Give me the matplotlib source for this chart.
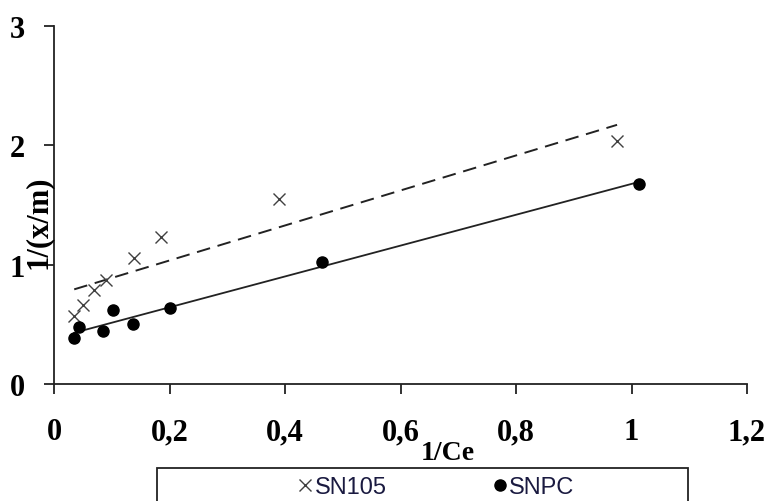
import numpy as np
import matplotlib.pyplot as plt
from matplotlib.lines import Line2D
from matplotlib.patches import Rectangle

# data
sn105_x = [0.035, 0.050, 0.069, 0.090, 0.139, 0.185, 0.390, 0.975]
sn105_y = [0.57, 0.66, 0.79, 0.87, 1.06, 1.23, 1.55, 2.04]
snpc_x = [0.035, 0.043, 0.085, 0.102, 0.137, 0.201, 0.464, 1.013]
snpc_y = [0.385, 0.477, 0.44, 0.62, 0.50, 0.64, 1.02, 1.68]

xticks = [0, 0.2, 0.4, 0.6, 0.8, 1.0, 1.2]
xticklabels = ["0", "0,2", "0,4", "0,6", "0,8", "1", "1,2"]
yticks = [0, 1, 2, 3]

serif = "Liberation Serif"
W, H = 767, 502

fig = plt.figure(figsize=(W / 100, H / 100), dpi=100)
ax = fig.add_axes([54 / W, 1 - 385 / H, 693 / W, 358 / H])

# linear trend lines
for x, y, style in [(sn105_x, sn105_y, "--"), (snpc_x, snpc_y, "-")]:
    a, b = np.polyfit(x, y, 1)
    xx = np.array([min(x), max(x)])
    if style == "--":
        ax.plot(xx, a * xx + b, color="#222222", lw=1.4, dashes=(7, 4))
    else:
        ax.plot(xx, a * xx + b, color="#222222", lw=1.3)

ax.plot(sn105_x, sn105_y, "x", color="#404040", ms=8, mew=1.0, ls="none")
ax.plot(snpc_x, snpc_y, "o", color="black", ms=8, ls="none")

ax.set_xlim(0, 1.2)
ax.set_ylim(0, 3)
ax.set_xticks(xticks)
ax.set_xticklabels(xticklabels)
ax.set_yticks(yticks)
for s in ["top", "right"]:
    ax.spines[s].set_visible(False)
for s in ["left", "bottom"]:
    ax.spines[s].set_linewidth(1.3)
    ax.spines[s].set_color("#222222")
ax.tick_params(direction="out", length=7, width=1.3, color="#222222")
ax.tick_params(axis="x", pad=17)
ax.tick_params(axis="y", pad=14)
for lab in ax.get_xticklabels():
    lab.set_fontfamily(serif)
    lab.set_fontweight("bold")
    lab.set_fontsize(22)
for lab in ax.get_yticklabels():
    lab.set_fontfamily(serif)
    lab.set_fontweight("bold")
    lab.set_fontsize(22)

fig.text(448 / W, 1 - 454 / H, "1/Ce", family=serif, fontsize=20,
         fontweight="bold", ha="center", va="center")
fig.text(38 / W, 1 - 222 / H, "1/(x/m)", family=serif, fontsize=22,
         fontweight="bold", rotation=90, ha="center", va="center")

# legend box, cut off at the bottom like the reference
fig.add_artist(Rectangle((157 / W, -0.05), 531 / W, 0.05 + 33 / H,
                         transform=fig.transFigure, fill=False,
                         ec="#222222", lw=1.3))
handles = [
    Line2D([], [], marker="x", color="#404040", ls="none", ms=9, mew=1.0),
    Line2D([], [], marker="o", color="black", ls="none", ms=8),
]
fig.legend(handles, ["SN105", "SNPC"], loc="center",
           bbox_to_anchor=(435 / W, 1 - 488 / H), ncol=2, frameon=False,
           handletextpad=0.0, columnspacing=4.4, handlelength=0.8,
           borderpad=0, labelcolor="#1a1a40",
           prop={"family": "Liberation Sans", "size": 17})

fig.savefig("out.png", dpi=100)
